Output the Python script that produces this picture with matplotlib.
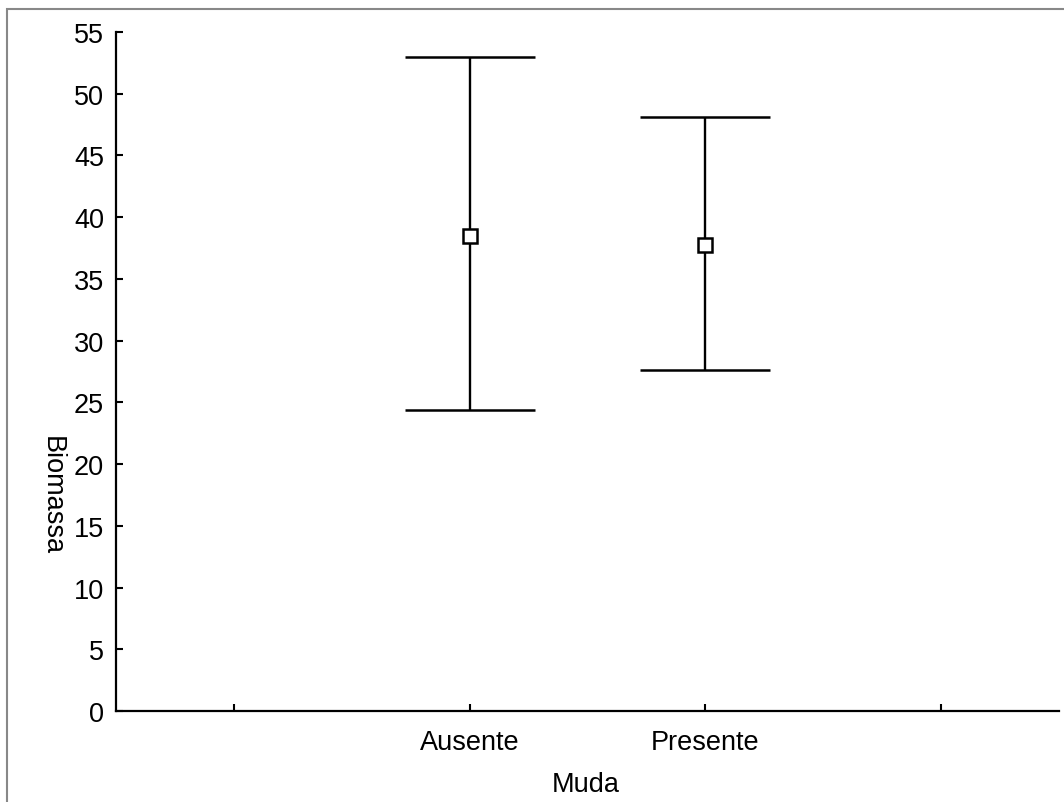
import matplotlib
matplotlib.use("Agg")
import matplotlib.pyplot as plt
from matplotlib.patches import Rectangle

categories = ["Ausente", "Presente"]
means = [38.5, 37.75]
upper = [52.95, 48.1]
lower = [24.4, 27.6]
yticks = [0, 5, 10, 15, 20, 25, 30, 35, 40, 45, 50, 55]

plt.rcParams['font.family'] = ['Liberation Sans', 'DejaVu Sans']
fig = plt.figure(figsize=(10.64, 8.03), dpi=100)
W, H = 1064, 803
ax = fig.add_axes([116 / W, 1 - 712 / H, (1059 - 116) / W, (712 - 33) / H])

fig.patches.append(Rectangle((7 / W, -0.1), 1.2, 1 - 10 / H + 0.1, transform=fig.transFigure,
                             fill=False, edgecolor='#888888', linewidth=1.5, zorder=0))

xs = [1, 2]
yerr = [[m - l for m, l in zip(means, lower)], [u - m for m, u in zip(means, upper)]]
ax.errorbar(xs, means, yerr=yerr, fmt='s', color='black', ecolor='black', elinewidth=1.7,
            capsize=65 * 0.72, capthick=1.7, markersize=10.5, markerfacecolor='white',
            markeredgecolor='black', markeredgewidth=1.8)

ax.set_xlim(-0.5, 3.5)
ax.set_ylim(0, 55)
ax.set_xticks([0, 1, 2, 3])
ax.set_xticklabels(["", categories[0], categories[1], ""])
ax.set_yticks(yticks)
ax.tick_params(direction='in', length=5, width=1.5, labelsize=19.5, pad=8.5)
ax.tick_params(axis='x', pad=13)
for s in ['top', 'right']:
    ax.spines[s].set_visible(False)
for s in ['left', 'bottom']:
    ax.spines[s].set_linewidth(1.6)
ax.spines['bottom'].set_bounds(-0.5, 3.5)

ax.set_xlabel("Muda", fontsize=19.5)
ax.xaxis.set_label_coords((586 - 116) / 943, -(785 - 712) / 679)
ax.xaxis.label.set_va('center')
ax.set_ylabel("Biomassa", fontsize=19.5, rotation=270)
ax.yaxis.set_label_coords((52 - 116) / 943, (712 - 496) / 679)
ax.yaxis.label.set_va('center')
ax.yaxis.label.set_ha('center')

fig.savefig("out.png", dpi=100)
